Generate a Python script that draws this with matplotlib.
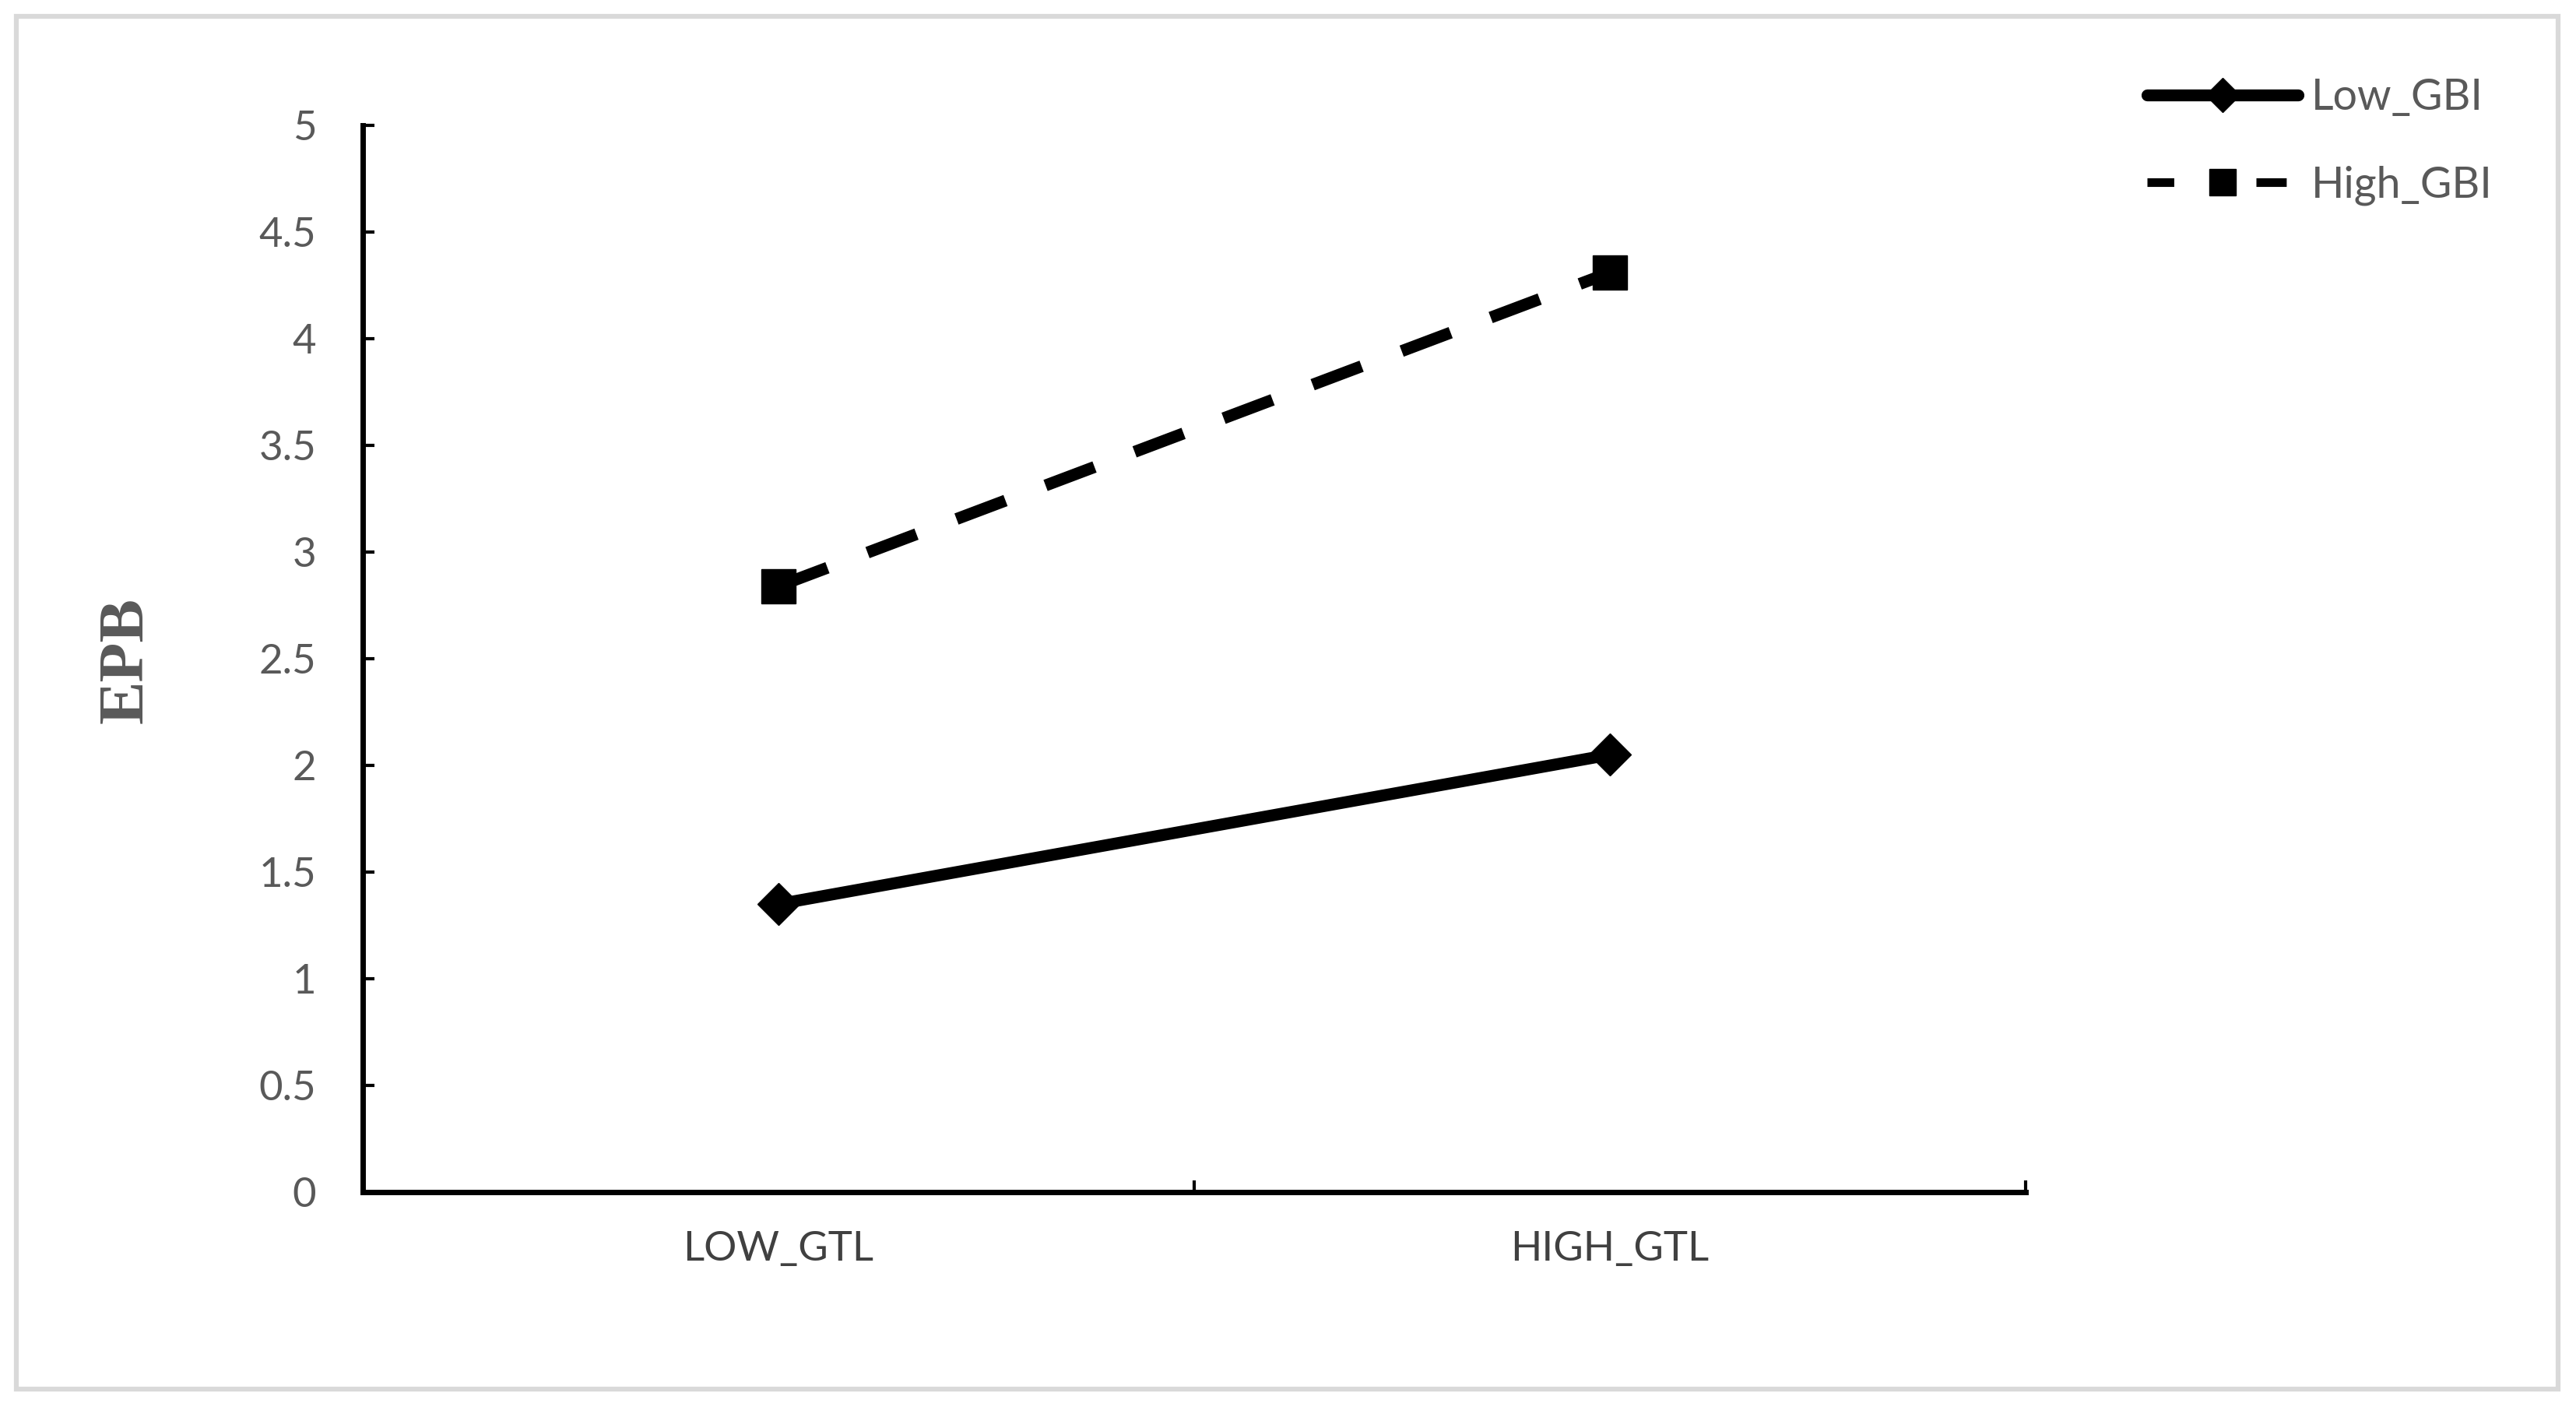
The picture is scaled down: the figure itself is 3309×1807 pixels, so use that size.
import matplotlib.pyplot as plt
from matplotlib.lines import Line2D
from matplotlib.patches import Rectangle

# data
categories = ["LOW_GTL", "HIGH_GTL"]
series_names = ["Low_GBI", "High_GBI"]
low_gbi = [1.35, 2.05]
high_gbi = [2.84, 4.31]
y_ticks = [0, 0.5, 1, 1.5, 2, 2.5, 3, 3.5, 4, 4.5, 5]

W, H, DPI = 3309, 1807, 100
GRAY = "#595959"

plt.rcParams["font.family"] = ["Lato", "DejaVu Sans"]

fig = plt.figure(figsize=(W / DPI, H / DPI), dpi=DPI)
fig.patch.set_facecolor("white")

# light gray outer border, like the Excel chart area
fig.patches.append(
    Rectangle((21 / W, 1 - 1784 / H), (3286 - 21) / W, (1784 - 21) / H,
              transform=fig.transFigure, fill=False, edgecolor="#d9d9d9", linewidth=4.5)
)

ax = fig.add_axes([466 / W, 1 - 1531 / H, (2602 - 466) / W, (1531 - 161) / H])

x = [1, 2]
ax.plot(x, low_gbi, color="black", linewidth=11, marker="D", markersize=28,
        solid_capstyle="round", zorder=3)
ax.plot(x, high_gbi, color="black", linewidth=11, marker="s", markersize=32,
        linestyle=(0, (4.4, 3.6)), dash_capstyle="butt", zorder=3)

ax.set_xlim(0.5, 2.5)
ax.set_ylim(0, 5)

for side in ["top", "right"]:
    ax.spines[side].set_visible(False)
for side in ["left", "bottom"]:
    ax.spines[side].set_linewidth(5)
    ax.spines[side].set_color("black")

ax.set_yticks(y_ticks)
ax.set_yticklabels([f"{v:g}" for v in y_ticks])
ax.tick_params(axis="y", direction="in", length=11, width=3, pad=43,
               labelsize=38, labelcolor=GRAY, color="black")

# category boundaries as major ticks, category names on minor ticks
ax.set_xticks([0.5, 1.5, 2.5])
ax.set_xticklabels([])
ax.set_xticks(x, minor=True)
ax.set_xticklabels(categories, minor=True)
ax.tick_params(axis="x", which="major", direction="in", length=11, width=3, color="black")
ax.tick_params(axis="x", which="minor", length=0, pad=36, labelsize=38, labelcolor="#404040")

fig.text(163 / W, 1 - 848 / H, "EPB", rotation=90, ha="center", va="center",
         fontsize=60, fontweight="bold", color=GRAY,
         family=["Liberation Serif", "DejaVu Serif"])

# legend handles drawn like the Excel legend keys
handles = [
    Line2D([], [], color="black", linewidth=11, marker="D", markersize=22,
           solid_capstyle="round"),
    Line2D([], [], color="black", linewidth=8, marker="s", markersize=24,
           linestyle=(0.4, (3.5, 9.5)), dash_capstyle="butt"),
]
fig.legend(handles, series_names, loc="upper left", bbox_to_anchor=(2758 / W, 1 - 100 / H),
           frameon=False, fontsize=40, labelcolor=GRAY, handlelength=3.5,
           handletextpad=0.3, labelspacing=1.1, borderpad=0, borderaxespad=0)

fig.savefig("out.png", dpi=DPI, facecolor="white")
